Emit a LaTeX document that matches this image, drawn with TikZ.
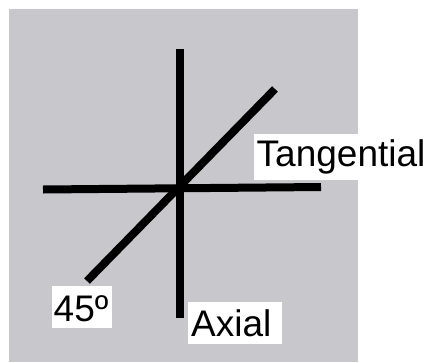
\documentclass[tikz,border=0pt]{standalone}
\usepackage{fontspec}
\setmainfont{Liberation Sans}
\definecolor{bggray}{RGB}{200,199,204}
\tikzset{
  axisline/.style={line width=8pt, black, line cap=butt},
  lbl/.style={fill=white, anchor=north west, inner ysep=0pt,
    align=left, font=\fontsize{37}{40}\selectfont},
}
\begin{document}
\begin{tikzpicture}[x=1pt,y=-1pt]
\useasboundingbox (0,0) rectangle (433,362);
\fill[bggray] (9,9) rectangle (358,362);
% axis end points
\coordinate (vtop) at (180,49);
\coordinate (vbot) at (180,318);
\coordinate (hl) at (43,189.5);
\coordinate (hr) at (321,187);
\coordinate (dl) at (87,281);
\coordinate (dr) at (275,89);
\draw[axisline] (vtop) -- (vbot);
\draw[axisline] (hl) -- (hr);
\draw[axisline] (dl) -- (dr);
% labels
\node[lbl, inner xsep=2.5pt, text width=174pt, text height=32.7pt, text depth=13.3pt] (tang) at (254,134) {Tangential};
\node[lbl, inner xsep=1.5pt, text width=57pt, text height=35.7pt, text depth=6.3pt] (deg) at (52,286) {45º};
\node[lbl, inner xsep=3pt, text width=88pt, text height=34.7pt, text depth=7.3pt] (axial) at (188,302) {Axial};
\end{tikzpicture}
\end{document}
